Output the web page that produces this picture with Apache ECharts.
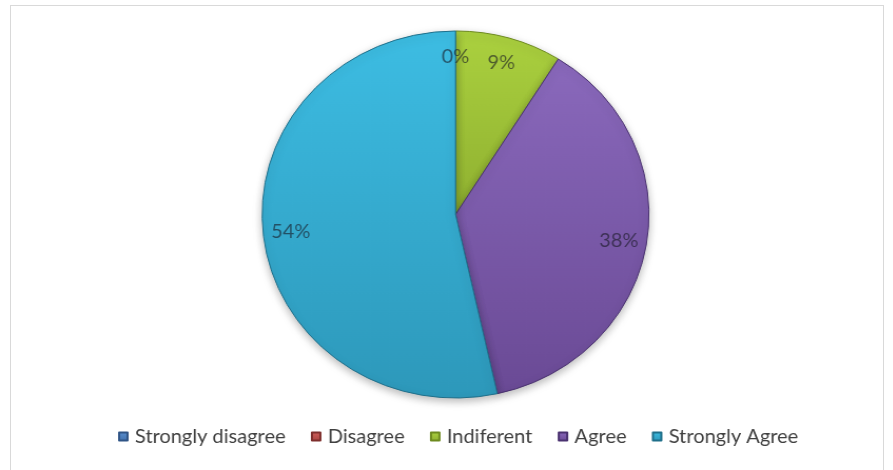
<!DOCTYPE html>
<html>
<head>
<meta charset="utf-8">
<script src="https://cdn.jsdelivr.net/npm/echarts@6/dist/echarts.min.js"></script>
<style>
  html, body { margin: 0; padding: 0; background: #ffffff; overflow: hidden; }
  #frame {
    position: absolute; left: 10px; top: 5px; width: 874px; height: 480px;
    border: 1px solid #d9d9d9; box-sizing: border-box;
  }
  /* the chart is drawn slightly wider than tall */
  #chart {
    position: absolute; left: 0; top: 0; width: 847px; height: 470px;
    transform: scaleX(1.054); transform-origin: 0 0;
  }
</style>
</head>
<body>
<div id="frame"></div>
<div id="chart"></div>
<script>
// Survey responses, percent of respondents
const categories = ['Strongly disagree', 'Disagree', 'Indiferent', 'Agree', 'Strongly Agree'];
const percents = [0, 0, 9, 38, 54];

// slice fills: [top, bottom] of a vertical gradient, plus edge colour
const fillTop = ['#5a8fd0', '#d0605c', '#abd13f', '#8a69bc', '#3dbde3'];
const fillBottom = ['#3f6fab', '#a94340', '#8fb030', '#6a4a95', '#2d98ba'];
const edges = ['#2f5486', '#7e2f2d', '#6d8a1e', '#4a3270', '#1f6f8a'];

const gradient = (i) => new echarts.graphic.LinearGradient(0, 0, 0, 1, [
  { offset: 0, color: fillTop[i] },
  { offset: 1, color: fillBottom[i] }
]);

const pieData = categories.map((name, i) => ({
  name: name,
  value: percents[i],
  itemStyle: { color: gradient(i), borderColor: edges[i] }
}));

const labelData = categories.map((name, i) => ({ name: name, value: percents[i] }));

const chart = echarts.init(document.getElementById('chart'), null, { renderer: 'canvas' });
chart.setOption({
  backgroundColor: 'transparent',
  animation: false,
  color: fillTop,
  legend: {
    bottom: 19,
    left: 107,
    icon: 'rect',
    itemWidth: 8,
    itemHeight: 8,
    itemGap: 24,
    data: categories,
    textStyle: { fontFamily: 'Lato', fontSize: 19, color: '#404040', padding: [0, 0, 0, 2] }
  },
  series: [
    {
      name: 'Responses',
      type: 'pie',
      center: [432.2, 214.5],
      radius: [0, 183.5],
      startAngle: 90,
      clockwise: true,
      data: pieData,
      label: { show: false },
      labelLine: { show: false },
      itemStyle: {
        borderWidth: 1,
        shadowBlur: 8,
        shadowOffsetY: 3,
        shadowColor: 'rgba(0,0,0,0.28)'
      },
      emphasis: { disabled: true }
    },
    {
      name: 'Percent labels',
      type: 'pie',
      center: [432.2, 214.5],
      radius: [125, 183.5],
      startAngle: 90,
      clockwise: true,
      silent: true,
      data: labelData,
      itemStyle: { color: 'rgba(0,0,0,0)', borderWidth: 0 },
      label: {
        show: true,
        position: 'inside',
        formatter: '{c}%',
        fontFamily: 'Lato',
        fontSize: 19,
        color: 'rgba(25,25,35,0.62)'
      },
      labelLine: { show: false },
      emphasis: { disabled: true }
    }
  ]
});
</script>
</body>
</html>
